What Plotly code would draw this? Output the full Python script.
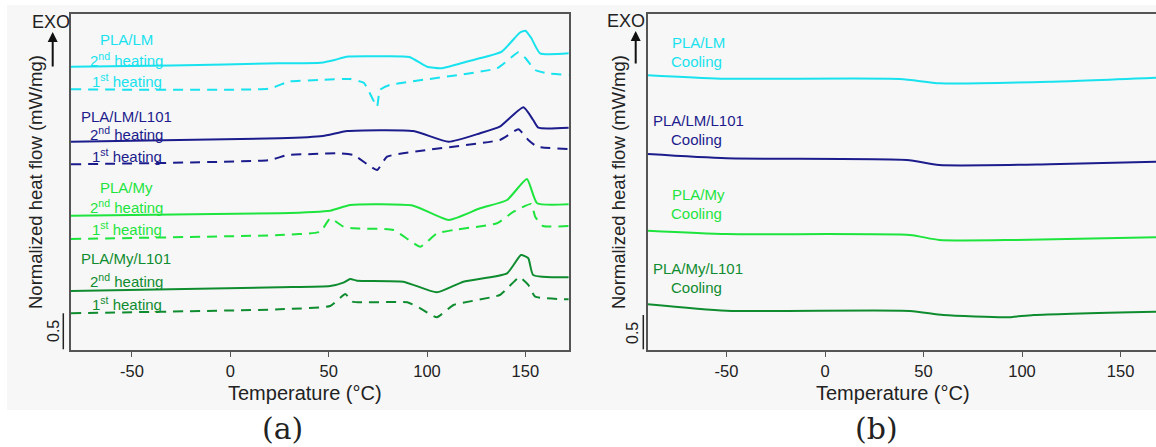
import plotly.graph_objects as go

W, H = 1156, 447

# ---------------- data (temperature in °C, normalized heat flow, offset, mW/mg) ----------------
lm_h2_T = [-81, -30, 25, 46, 53, 59, 75, 91, 100, 107, 120, 138, 147, 150, 153, 157.5, 172]
lm_h2_y = [3.935, 3.951, 3.982, 3.990, 4.028, 4.074, 4.079, 4.069, 3.935, 3.912, 4.004, 4.143, 4.403, 4.435, 4.333, 4.121, 4.121]

lm_h1_T = [-81, 20, 30, 45, 61, 68, 74.6, 76, 81, 135.6, 146.5, 150, 155, 161, 172]
lm_h1_y = [3.621, 3.632, 3.729, 3.750, 3.764, 3.708, 3.379, 3.611, 3.681, 3.913, 4.135, 4.056, 3.889, 3.843, 3.819]

lml_h2_T = [-81, 25, 47, 59.5, 93, 111, 127, 137, 149, 154, 156.6, 172]
lml_h2_y = [2.893, 2.940, 2.972, 3.042, 3.042, 2.893, 3.010, 3.101, 3.371, 3.194, 3.088, 3.088]

lml_h1_T = [-81, 20, 29, 42, 56, 62.7, 74.6, 79.7, 137, 146.5, 151.5, 156, 172]
lml_h1_y = [2.579, 2.639, 2.708, 2.722, 2.732, 2.708, 2.500, 2.685, 2.917, 3.065, 2.917, 2.824, 2.792]

my_h2_T = [-81, 25, 50.8, 61, 93, 111, 127, 140.7, 150.8, 156, 172]
my_h2_y = [1.865, 1.899, 1.935, 2.014, 2.004, 1.806, 1.968, 2.083, 2.375, 2.038, 2.024]

my_h1_T = [-81, 25, 45.8, 50.8, 57.5, 62.7, 83, 96.6, 105, 113.5, 135.6, 144, 153, 155, 159, 172]
my_h1_y = [1.542, 1.597, 1.643, 1.829, 1.713, 1.690, 1.667, 1.435, 1.621, 1.667, 1.760, 1.921, 2.028, 1.851, 1.722, 1.722]

myl_h2_T = [-81, 25, 50.8, 57.5, 61, 64.4, 88, 105, 118.5, 140.7, 147.8, 151.5, 154, 172]
myl_h2_y = [0.819, 0.871, 0.889, 0.935, 0.986, 0.963, 0.949, 0.801, 0.949, 1.065, 1.319, 1.274, 1.042, 1.010]

myl_h1_T = [-81, 25, 50.8, 58.5, 62, 90, 96.6, 105, 113.5, 137, 147, 151.5, 155, 172]
myl_h1_y = [0.510, 0.565, 0.611, 0.778, 0.671, 0.663, 0.579, 0.454, 0.625, 0.764, 1.010, 0.903, 0.740, 0.704]

lm_c_T = [-90, -53, 38, 58.4, 114, 168]
lm_c_y = [3.815, 3.768, 3.764, 3.704, 3.726, 3.782]
lml_c_T = [-90, -50, 41.5, 58, 114, 168]
lml_c_y = [2.722, 2.663, 2.639, 2.569, 2.579, 2.615]
my_c_T = [-90, -50, 43, 58, 97, 168]
my_c_y = [1.657, 1.611, 1.597, 1.528, 1.528, 1.565]
myl_c_T = [-90, -50, 43, 60, 92, 106, 168]
myl_c_y = [0.635, 0.546, 0.542, 0.486, 0.454, 0.486, 0.532]

x_ticks = [-50, 0, 50, 100, 150]
x_tick_labels = ["-50", "0", "50", "100", "150"]
samples = ["PLA/LM", "PLA/LM/L101", "PLA/My", "PLA/My/L101"]
colors = ["#18e2ee", "#1c1c8c", "#1ee43e", "#108c30"]

FONT = "Liberation Sans, Arial, sans-serif"

fig = go.Figure()

heat = [(lm_h2_T, lm_h2_y, lm_h1_T, lm_h1_y),
        (lml_h2_T, lml_h2_y, lml_h1_T, lml_h1_y),
        (my_h2_T, my_h2_y, my_h1_T, my_h1_y),
        (myl_h2_T, myl_h2_y, myl_h1_T, myl_h1_y)]
for (t2, y2, t1, y1), c in zip(heat, colors):
    fig.add_trace(go.Scatter(x=t2, y=y2, mode="lines", xaxis="x", yaxis="y",
                             line=dict(color=c, width=2, shape="spline", smoothing=0.5),
                             showlegend=False, hoverinfo="skip"))
    fig.add_trace(go.Scatter(x=t1, y=y1, mode="lines", xaxis="x", yaxis="y",
                             line=dict(color=c, width=2, dash="10px,7px", shape="spline", smoothing=0.4),
                             showlegend=False, hoverinfo="skip"))

cool = [(lm_c_T, lm_c_y), (lml_c_T, lml_c_y), (my_c_T, my_c_y), (myl_c_T, myl_c_y)]
for (t, y), c in zip(cool, colors):
    fig.add_trace(go.Scatter(x=t, y=y, mode="lines", xaxis="x2", yaxis="y2",
                             line=dict(color=c, width=2, shape="spline", smoothing=0.6),
                             showlegend=False, hoverinfo="skip"))

def px(x):
    return x / W

def py(y):
    return 1 - y / H

axis_common = dict(showline=True, linecolor="#555555", linewidth=1.5, showgrid=False,
                   zeroline=False)
yd = [py(350), py(14)]
tick_font = dict(size=16.5, family=FONT, color="#222222")
fig.update_layout(
    width=W, height=H,
    margin=dict(l=0, r=0, t=0, b=0),
    paper_bgcolor="white", plot_bgcolor="rgba(0,0,0,0)",
    font=dict(family=FONT, color="#222222"),
    xaxis=dict(domain=[px(71), px(569)], range=[-81, 172.2], anchor="y", mirror=True,
               tickvals=x_ticks, ticktext=x_tick_labels, ticks="outside", ticklen=5,
               tickcolor="#555555", tickfont=tick_font, **axis_common),
    yaxis=dict(domain=yd, range=[0, 336 / 72], anchor="x", mirror=True,
               showticklabels=False, ticks="", **axis_common),
    xaxis2=dict(domain=[px(647.7), 1.0], range=[-90, 168], anchor="y2", mirror=True,
                tickvals=x_ticks, ticktext=x_tick_labels, ticks="outside", ticklen=5,
                tickcolor="#555555", tickfont=tick_font, **axis_common),
    yaxis2=dict(domain=yd, range=[0, 336 / 72], anchor="x2", mirror=False,
                showticklabels=False, ticks="", **axis_common),
)

shapes = [
    dict(type="rect", xref="paper", yref="paper", x0=px(7), x1=1, y0=py(410), y1=py(5),
         fillcolor="#f7f7f7", line=dict(width=0), layer="below"),
    dict(type="line", xref="paper", yref="paper", x0=px(63.3), x1=px(63.3), y0=py(313.3), y1=py(349.3),
         line=dict(color="#222222", width=1.5)),
    dict(type="line", xref="paper", yref="paper", x0=px(643.3), x1=px(643.3), y0=py(315), y1=py(349.3),
         line=dict(color="#222222", width=1.5)),
]
fig.update_layout(shapes=shapes)

ann = []
def txt(x, y, s, size=14, color="#222222", angle=0, family=FONT, xanchor="center"):
    ann.append(dict(x=px(x), y=py(y), xref="paper", yref="paper", text=s, showarrow=False,
                    font=dict(size=size, color=color, family=family), textangle=angle,
                    xanchor=xanchor, yanchor="middle"))

# left panel labels
left_lab = [(39.3, 59.3, 81), (116.7, 133.3, 155), (187.3, 206.7, 228.3), (258.3, 280, 303.3)]
for (yn, y2, y1), name, c in zip(left_lab, samples, colors):
    txt(126, yn, name, 15, c)
    txt(126, y2, "2<sup>nd</sup> heating", 15, c)
    txt(127, y1, "1<sup>st</sup> heating", 15, c)

# right panel labels
right_lab = [(42.7, 61), (120.7, 139.3), (195, 213.3), (268.3, 287.3)]
for (yn, yc), name, c in zip(right_lab, samples, colors):
    txt(698, yn, name, 15, c)
    txt(696, yc, "Cooling", 15, c)

# axis titles
txt(305, 393, "Temperature (°C)", 20)
txt(893, 393, "Temperature (°C)", 20)
txt(36, 182, "Normalized heat flow (mW/mg)", 18.5, angle=-90)
txt(619, 182, "Normalized heat flow (mW/mg)", 18.5, angle=-90)
txt(53, 331, "0.5", 16, angle=-90)
txt(632, 333, "0.5", 16, angle=-90)
txt(51, 22, "EXO", 18)
txt(626, 21, "EXO", 18)
txt(282, 428, "(a)", 30, family="DejaVu Serif, Liberation Serif, serif")
txt(876, 428, "(b)", 30, family="DejaVu Serif, Liberation Serif, serif")

# EXO arrows
for xa, ytop, ybot in [(52.7, 32, 68), (635.7, 31, 65)]:
    ann.append(dict(x=px(xa), y=py(ytop), xref="paper", yref="paper",
                    ax=0, ay=ybot - ytop, axref="pixel", ayref="pixel",
                    showarrow=True, arrowhead=2, arrowsize=1, arrowwidth=2,
                    arrowcolor="#111111", text=""))

fig.update_layout(annotations=ann)
fig.write_html("out.html", config={"displayModeBar": False},
               post_script="document.body.style.margin='0';document.body.style.overflow='hidden';")
